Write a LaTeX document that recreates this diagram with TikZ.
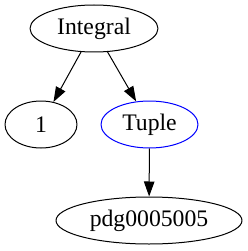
\documentclass[tikz,border=0pt]{standalone}
\usepackage{fontspec}
\setmainfont{Liberation Serif}
\usetikzlibrary{arrows.meta,shapes.geometric}

\begin{document}
\begin{tikzpicture}[
  x=1pt, y=-1pt,
  line join=round,
  term/.style={ellipse, draw, line width=1pt, inner sep=0pt,
    minimum height=47pt, font=\fontsize{23.7}{28}\selectfont},
  link/.style={line width=1pt, -{Triangle[length=15pt,width=10.5pt]}},
]
\useasboundingbox (0,0) rectangle (247,251);

% ── the terms of the expression ───────────────────────────────────────────
\node[term, minimum width=128pt]           (integral) at (94,28.5)  {Integral};
\node[term, minimum width=72pt]            (one)      at (41,124.5) {1};
\node[term, draw=blue, minimum width=97pt] (tuple)    at (149.5,124.5) {Tuple};
\node[term, minimum width=186pt]           (pdg)      at (149,220.5) {pdg0005005};

% ── argument links ────────────────────────────────────────────────────────
\draw[link] (integral) -- (one);
\draw[link] (integral) -- (tuple);
\draw[link] (tuple) -- (pdg);

\end{tikzpicture}
\end{document}
